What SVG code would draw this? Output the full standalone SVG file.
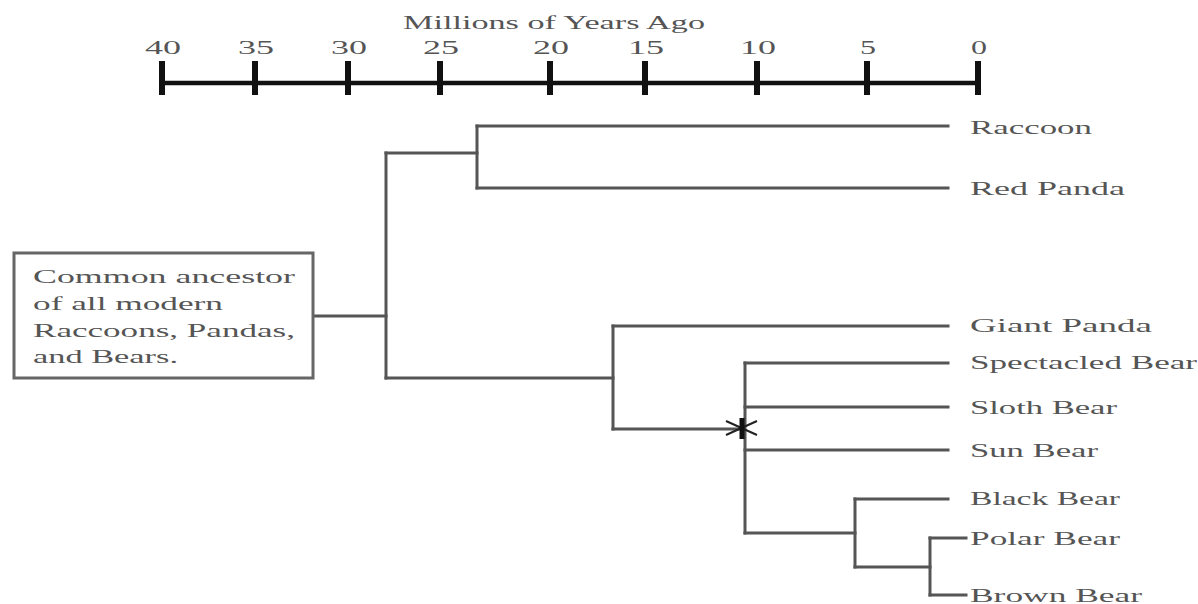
<svg xmlns="http://www.w3.org/2000/svg" width="1198" height="604" viewBox="0 0 1198 604">
<style>
text{font-family:"Liberation Serif","DejaVu Serif",serif;fill:#555;font-size:18px}
.ax{fill:#666}
.tick{stroke:#111;stroke-width:6}
.axis{stroke:#111;stroke-width:4.5}
.br{stroke:#555;stroke-width:3;fill:none;stroke-linecap:square}
.box{fill:#fff;stroke:#666;stroke-width:3}
</style>
<rect width="1198" height="604" fill="#fff"/>
<g id="axis">
<text x="403" y="29" font-size="19" textLength="302" lengthAdjust="spacingAndGlyphs">Millions of Years Ago</text>
<line class="axis" x1="162" y1="83" x2="978" y2="83"/>
<line class="tick" x1="162" y1="61" x2="162" y2="95"/>
<line class="tick" x1="255" y1="61" x2="255" y2="95"/>
<line class="tick" x1="348" y1="61" x2="348" y2="95"/>
<line class="tick" x1="440" y1="61" x2="440" y2="95"/>
<line class="tick" x1="550" y1="61" x2="550" y2="95"/>
<line class="tick" x1="645" y1="61" x2="645" y2="95"/>
<line class="tick" x1="757" y1="61" x2="757" y2="95"/>
<line class="tick" x1="867" y1="61" x2="867" y2="95"/>
<line class="tick" x1="978" y1="61" x2="978" y2="95"/>
<g class="ax" text-anchor="middle">
<text x="163" y="54" textLength="36" lengthAdjust="spacingAndGlyphs">40</text>
<text x="256" y="54" textLength="36" lengthAdjust="spacingAndGlyphs">35</text>
<text x="349" y="54" textLength="36" lengthAdjust="spacingAndGlyphs">30</text>
<text x="441" y="54" textLength="36" lengthAdjust="spacingAndGlyphs">25</text>
<text x="551" y="54" textLength="36" lengthAdjust="spacingAndGlyphs">20</text>
<text x="646" y="54" textLength="36" lengthAdjust="spacingAndGlyphs">15</text>
<text x="758" y="54" textLength="36" lengthAdjust="spacingAndGlyphs">10</text>
<text x="868" y="54" textLength="16" lengthAdjust="spacingAndGlyphs">5</text>
<text x="979" y="54" textLength="16" lengthAdjust="spacingAndGlyphs">0</text>
</g>
</g>
<g id="connectors">
<path class="br" d="M313 316 H386"/>
<path class="br" d="M386 153 V378"/>
<path class="br" d="M386 153 H477"/>
<path class="br" d="M477 126 V188"/>
<path class="br" d="M477 126 H948"/>
<path class="br" d="M477 188 H948"/>
<path class="br" d="M386 378 H613"/>
<path class="br" d="M613 326 V429"/>
<path class="br" d="M613 326 H948"/>
<path class="br" d="M613 429 H743"/>
<path class="br" d="M745 363 V533"/>
<path class="br" d="M745 363 H948"/>
<path class="br" d="M745 407 H948"/>
<path class="br" d="M745 450 H948"/>
<path class="br" d="M745 533 H855"/>
<path class="br" d="M855 499 V567"/>
<path class="br" d="M855 499 H948"/>
<path class="br" d="M855 567 H930"/>
<path class="br" d="M930 538 V595"/>
<path class="br" d="M930 538 H966"/>
<path class="br" d="M930 595 H966"/>
</g>
<g id="marker">
<path d="M726 421 L757 435 M726 435 L757 421" stroke="#222" stroke-width="2" fill="none"/>
<path d="M742 418 V439" stroke="#111" stroke-width="5"/>
</g>
<g id="ancestor">
<rect class="box" x="14" y="253" width="299" height="125"/>
<text x="33" y="283" textLength="262" lengthAdjust="spacingAndGlyphs">Common ancestor</text>
<text x="33" y="310" textLength="190" lengthAdjust="spacingAndGlyphs">of all modern</text>
<text x="33" y="337" textLength="262" lengthAdjust="spacingAndGlyphs">Raccoons, Pandas,</text>
<text x="33" y="363" textLength="145" lengthAdjust="spacingAndGlyphs">and Bears.</text>
</g>
<g id="raccoon"><text x="970" y="134" textLength="122" lengthAdjust="spacingAndGlyphs">Raccoon</text></g>
<g id="red-panda"><text x="970" y="195" textLength="155" lengthAdjust="spacingAndGlyphs">Red Panda</text></g>
<g id="giant-panda"><text x="970" y="332" textLength="182" lengthAdjust="spacingAndGlyphs">Giant Panda</text></g>
<g id="spectacled-bear"><text x="970" y="369" textLength="227" lengthAdjust="spacingAndGlyphs">Spectacled Bear</text></g>
<g id="sloth-bear"><text x="970" y="414" textLength="147" lengthAdjust="spacingAndGlyphs">Sloth Bear</text></g>
<g id="sun-bear"><text x="970" y="457" textLength="128" lengthAdjust="spacingAndGlyphs">Sun Bear</text></g>
<g id="black-bear"><text x="970" y="505" textLength="150" lengthAdjust="spacingAndGlyphs">Black Bear</text></g>
<g id="polar-bear"><text x="970" y="545" textLength="150" lengthAdjust="spacingAndGlyphs">Polar Bear</text></g>
<g id="brown-bear"><text x="970" y="602" textLength="172" lengthAdjust="spacingAndGlyphs">Brown Bear</text></g>
</svg>
